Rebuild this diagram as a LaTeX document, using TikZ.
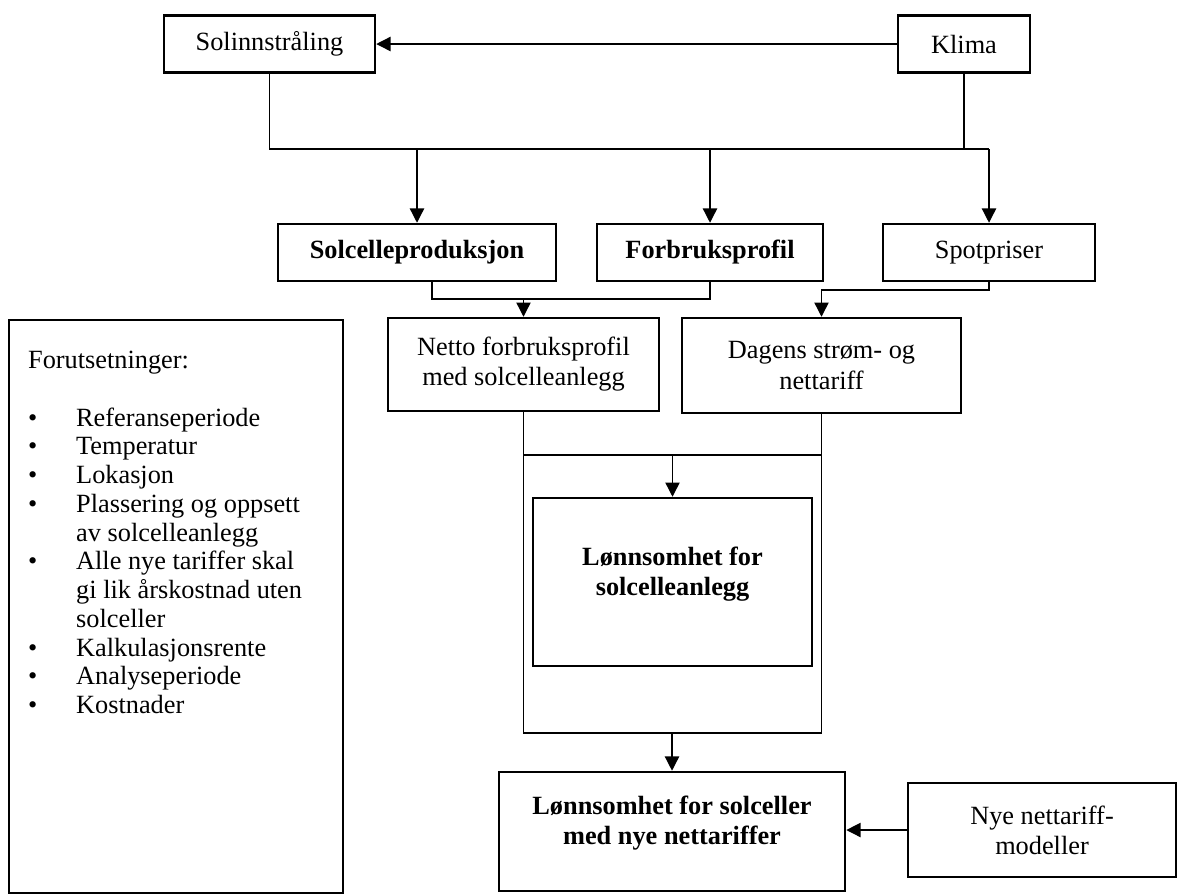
\documentclass[tikz,border=0pt]{standalone}
\usepackage{fontspec}
\setmainfont{Liberation Serif}
\usetikzlibrary{arrows.meta,positioning,calc}

\begin{document}
\begin{tikzpicture}[
    x=0.456pt, y=-0.456pt,
    font=\fontsize{12}{13.7}\selectfont,
    box/.style={draw, line width=1.15pt, inner sep=2pt, align=center},
    boldbox/.style={box, font=\fontsize{12}{13.7}\selectfont\bfseries},
    lin/.style={line width=0.6pt},
    arr/.style={-{Triangle[length=6.5pt, width=6.5pt]}, line width=0.6pt}
  ]
  \useasboundingbox (0,0) rectangle (1178,894);

  % top row
  \node[box, minimum width=96.2pt, minimum height=26pt] (sol) at (269.5,44) {Solinnstråling};
  \node[box, minimum width=60.2pt, minimum height=26pt] (klima) at (964,44) {Klima};

  % second row
  \node[boldbox, minimum width=126.8pt, minimum height=26pt] (prod) at (417,252.5) {Solcelleproduksjon};
  \node[boldbox, minimum width=103.1pt, minimum height=26pt] (forbruk) at (710,252.5) {Forbruksprofil};
  \node[box, minimum width=96.7pt, minimum height=26pt] (spot) at (989,252.5) {Spotpriser};

  % third row
  \node[box, minimum width=123.6pt, minimum height=42.4pt] (netto) at (523.5,364.5) {Netto forbruksprofil\\med solcelleanlegg};
  \node[box, minimum width=127.2pt, minimum height=43.3pt] (dagens) at (821.5,365.5) {Dagens strøm- og\\nettariff};

  \node[boldbox, minimum width=127.2pt, minimum height=76.6pt, text depth=10pt] (lsa) at (672.5,582) {Lønnsomhet for\\solcelleanlegg};
  \node[boldbox, minimum width=157.8pt, minimum height=54.3pt, text depth=10pt] (lnt) at (672,831.5) {Lønnsomhet for solceller\\med nye nettariffer};
  \node[box, minimum width=122.2pt, minimum height=42.9pt] (nye) at (1042,830) {Nye nettariff-\\modeller};

  % assumptions
  \node[box, minimum width=152.3pt, minimum height=261.3pt] (forut) at (176,606.5) {};
  \node[anchor=base west, inner sep=0pt, font=\fontsize{12}{13.1}\selectfont] (forutliste)
    at ($(forut.north west)+(20,50)$) {%
    \begin{tabular}[t]{@{}p{21.9pt}@{}l@{}}
      \multicolumn{2}{@{}l@{}}{Forutsetninger:}\\
      \\
      \textbullet & Referanseperiode\\
      \textbullet & Temperatur\\
      \textbullet & Lokasjon\\
      \textbullet & Plassering og oppsett\\
                  & av solcelleanlegg\\
      \textbullet & Alle nye tariffer skal\\
                  & gi lik årskostnad uten\\
                  & solceller\\
      \textbullet & Kalkulasjonsrente\\
      \textbullet & Analyseperiode\\
      \textbullet & Kostnader
    \end{tabular}};

  % connectors
  \coordinate (topbus) at (600,149);
  \coordinate (midbus) at (600,299);
  \coordinate (spotbus) at (900,290);
  \coordinate (netbus) at (672,455);
  \coordinate (lowbus) at (672,733);

  \draw[arr] (klima) -- (sol);
  \draw[lin] (sol.south) |- (topbus -| spot.north);
  \draw[lin] (klima.south) -- (klima.south |- topbus);
  \draw[arr] (prod.north |- topbus) -- (prod.north);
  \draw[arr] (forbruk.north |- topbus) -- (forbruk.north);
  \draw[arr] (spot.north |- topbus) -- (spot.north);

  \draw[lin] ($(prod.south)+(15,0)$) |- (forbruk.south |- midbus) -- (forbruk.south);
  \draw[arr] (netto.north |- midbus) -- (netto.north);
  \draw[arr] (spot.south) -- (spot.south |- spotbus) -| (dagens.north);

  \draw[lin] (netto.south) |- (lowbus -| dagens.south) -- (dagens.south);
  \draw[lin] (netto.south |- netbus) -- (dagens.south |- netbus);
  \draw[arr] (lsa.north |- netbus) -- (lsa.north);
  \draw[arr] (lnt.north |- lowbus) -- (lnt.north);
  \draw[arr] (nye.west) -- (nye.west -| lnt.east);
\end{tikzpicture}
\end{document}
